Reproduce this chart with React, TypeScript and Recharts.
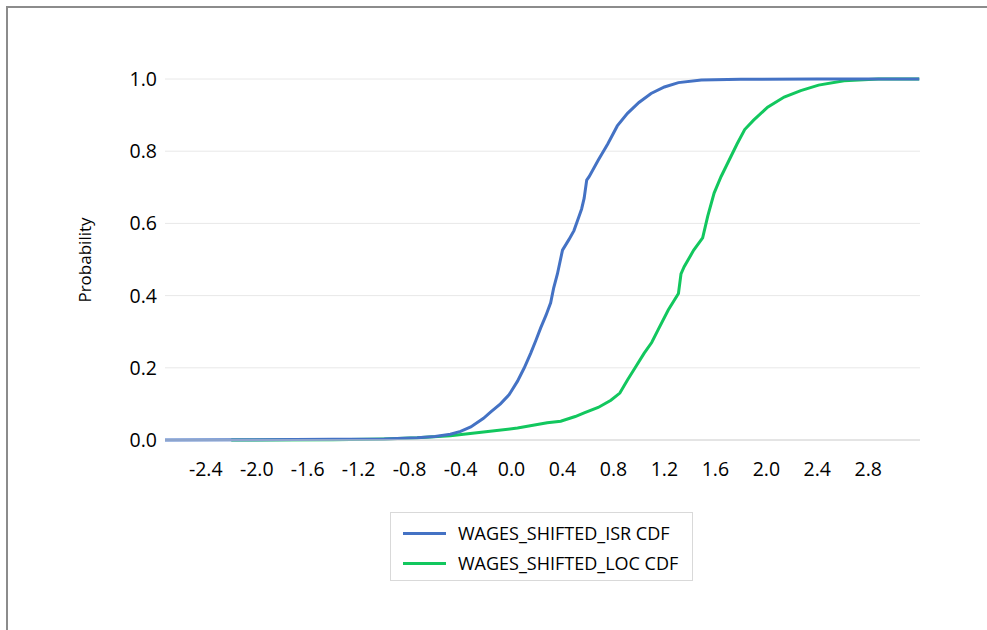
import React from 'react';
import { LineChart, Line, XAxis, YAxis, CartesianGrid, Legend } from 'recharts';

const isrWage = [
  -2.72, -2.0, -1.4, -1.0, -0.74, -0.6, -0.48, -0.4, -0.32, -0.22, -0.165, -0.087, -0.02, 0.047, 0.1, 0.15,
  0.19, 0.228, 0.27, 0.307, 0.33, 0.36, 0.4, 0.45, 0.49, 0.53, 0.55, 0.57, 0.59, 0.61, 0.68, 0.755, 0.83,
  0.91, 1.0, 1.095, 1.2, 1.31, 1.49, 1.8, 2.4, 3.2,
];
const isrProb = [
  0, 0.001, 0.002, 0.003, 0.006, 0.01, 0.016, 0.024, 0.036, 0.06, 0.077, 0.1, 0.125, 0.163, 0.2, 0.24,
  0.275, 0.31, 0.345, 0.38, 0.42, 0.46, 0.526, 0.555, 0.58, 0.62, 0.64, 0.67, 0.72, 0.73, 0.775, 0.82, 0.87,
  0.905, 0.935, 0.96, 0.978, 0.99, 0.997, 0.999, 1.0, 1.0,
];

const locWage = [
  -2.2, -1.4, -1.0, -0.74, -0.48, -0.22, 0.047, 0.28, 0.386, 0.5, 0.57, 0.68, 0.78, 0.85, 0.91, 0.97, 1.04,
  1.1, 1.15, 1.23, 1.31, 1.33, 1.355, 1.43, 1.5, 1.54, 1.59, 1.645, 1.72, 1.77, 1.83, 1.9, 2.01, 2.14, 2.27,
  2.41, 2.61, 2.88, 3.2,
];
const locProb = [
  0, 0.001, 0.003, 0.006, 0.012, 0.022, 0.033, 0.048, 0.052, 0.065, 0.075, 0.09, 0.11, 0.13, 0.166, 0.2, 0.24,
  0.27, 0.305, 0.36, 0.406, 0.46, 0.48, 0.526, 0.56, 0.62, 0.684, 0.73, 0.784, 0.82, 0.86, 0.886, 0.922, 0.95,
  0.968, 0.983, 0.995, 1.0, 1.0,
];

const xTicks = [-2.4, -2.0, -1.6, -1.2, -0.8, -0.4, 0.0, 0.4, 0.8, 1.2, 1.6, 2.0, 2.4, 2.8];
const yTicks = [0, 0.2, 0.4, 0.6, 0.8, 1.0];

const seriesNames = ['WAGES_SHIFTED_ISR CDF', 'WAGES_SHIFTED_LOC CDF'];
const seriesColors = ['#4472C4', '#12C75E'];

const isrData = isrWage.map((x, i) => ({ x, p: isrProb[i] }));
const locData = locWage.map((x, i) => ({ x, p: locProb[i] }));

const font = '"Open Sans", sans-serif';
const fmt = (v: number) => v.toFixed(1);

const LegendBox = () => (
  <div
    style={{
      border: '1px solid #d9d9d9',
      boxSizing: 'border-box',
      width: 303,
      height: 69,
      padding: '5px 0 0 12px',
      fontFamily: font,
      fontSize: 18,
      color: '#000',
    }}
  >
    {seriesNames.map((name, i) => (
      <div key={name} style={{ display: 'flex', alignItems: 'center', height: 30 }}>
        <span style={{ display: 'inline-block', width: 43, height: 3, background: seriesColors[i], marginRight: 12 }} />
        <span>{name}</span>
      </div>
    ))}
  </div>
);

const YLabel = () => (
  <text x={91} y={260} transform="rotate(-90 91 260)" textAnchor="middle" fontFamily={font} fontSize={17} fill="#000">
    Probability
  </text>
);

export default function App() {
  return (
    <div style={{ position: 'fixed', left: 0, top: 0, width: 987, height: 630, overflow: 'hidden', background: '#fff' }}>
      <div
        style={{
          position: 'absolute',
          left: 6,
          top: 6,
          width: 1100,
          height: 800,
          borderTop: '2px solid #8c8c8c',
          borderLeft: '2px solid #8c8c8c',
        }}
      />
      <div style={{ position: 'absolute', left: 0, top: 0 }}>
        <LineChart width={987} height={630} margin={{ top: 79, right: 67, bottom: 91, left: 0 }}>
          <CartesianGrid horizontal vertical={false} stroke="#e8e8e8" />
          <XAxis
            dataKey="x"
            type="number"
            domain={[-2.72, 3.206]}
            ticks={xTicks}
            tickFormatter={fmt}
            allowDataOverflow
            axisLine={{ stroke: '#d6d6d6' }}
            tickLine={false}
            tickSize={0}
            tickMargin={22}
            tick={{ fill: '#000', fontFamily: font, fontSize: 19.5 }}
            height={30}
          />
          <YAxis
            type="number"
            domain={[0, 1]}
            ticks={yTicks}
            tickFormatter={fmt}
            axisLine={false}
            tickLine={false}
            tickSize={0}
            tickMargin={8}
            width={165}
            tick={{ fill: '#000', fontFamily: font, fontSize: 19.5 }}
            label={{ content: YLabel }}
          />
          <Legend content={LegendBox} wrapperStyle={{ left: 390, top: 512, width: 303, height: 69 }} />
          <Line
            data={locData}
            dataKey="p"
            name={seriesNames[1]}
            type="linear"
            stroke={seriesColors[1]}
            strokeWidth={3}
            dot={false}
            isAnimationActive={false}
          />
          <Line
            data={isrData}
            dataKey="p"
            name={seriesNames[0]}
            type="linear"
            stroke={seriesColors[0]}
            strokeWidth={3}
            dot={false}
            isAnimationActive={false}
          />
        </LineChart>
      </div>
    </div>
  );
}
